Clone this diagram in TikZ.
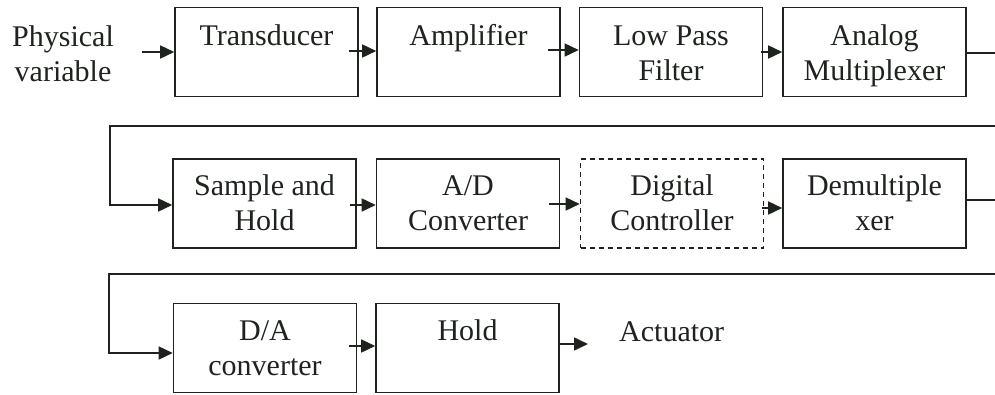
\documentclass[tikz,border=0pt]{standalone}
\usepackage{fontspec}
\setmainfont{Liberation Serif}
\usetikzlibrary{arrows.meta,calc}
\definecolor{ink}{RGB}{30,35,30}
\tikzset{
  blk/.style={draw=ink, line width=1.6pt, minimum width=183pt, minimum height=89pt, inner sep=0pt},
  dblk/.style={blk, dash pattern=on 5pt off 4pt},
  lbl/.style={text=ink, font=\fontsize{30}{35}\selectfont, align=center, inner sep=0pt, anchor=north},
  wire/.style={draw=ink, line width=1.6pt},
  arr/.style={wire, -{Triangle[length=14pt,width=13pt]}}
}
\begin{document}
\begin{tikzpicture}[x=1pt,y=-1pt]
\useasboundingbox[fill=white] (0,0) rectangle (995,394);
% row 1
\node[blk] (T) at (266.5,52) {};
\node[blk] (A) at (468.5,52) {};
\node[blk] (L) at (671,52) {};
\node[blk] (M) at (874.5,52) {};
% row 2
\node[blk] (S) at (264.5,203.5) {};
\node[blk] (AD) at (468,203.5) {};
\node[dblk] (DC) at (672,203.5) {};
\node[blk] (DM) at (874.5,203.5) {};
% row 3
\node[blk] (DA) at (265,348) {};
\node[blk] (H) at (467.5,348) {};
% texts
\node[lbl] (pv) at (63,21.5) {\strut Physical\\\strut variable};
\node[lbl] (tT) at ([yshift=-14.5pt]T.north) {\strut Transducer};
\node[lbl] (tA) at ([yshift=-14.5pt]A.north) {\strut Amplifier};
\node[lbl] (tL) at ([yshift=-14.5pt]L.north) {\strut Low Pass\\\strut Filter};
\node[lbl] (tM) at ([yshift=-14.5pt]M.north) {\strut Analog\\\strut Multiplexer};
\node[lbl] (tS) at ([yshift=-13pt]S.north) {\strut Sample and\\\strut Hold};
\node[lbl] (tAD) at ([yshift=-13pt]AD.north) {\strut A/D\\\strut Converter};
\node[lbl] (tDC) at ([yshift=-13pt]DC.north) {\strut Digital\\\strut Controller};
\node[lbl] (tDM) at ([yshift=-13pt]DM.north) {\strut Demultiple\\\strut xer};
\node[lbl] (tDA) at ([yshift=-13.5pt]DA.north) {\strut D/A\\\strut converter};
\node[lbl] (tH) at ([yshift=-13.5pt]H.north) {\strut Hold};
\node[lbl, anchor=base west] (act) at (619,341) {Actuator};
% free ends
\coordinate (pvs) at (142,52);
\coordinate (r1e) at (995,53);
\coordinate (r2e) at (995,126);
\coordinate (l2) at (110,126);
\coordinate (r2x) at (995,200);
\coordinate (r3e) at (995,274);
\coordinate (l3) at (109,274);
\coordinate (acte) at (588,344);
% row 1 connectors
\draw[arr] (pvs) -- (T.west);
\draw[arr] ([xshift=-10pt,yshift=1pt]T.east) -- ([yshift=1pt]A.west);
\draw[arr] ([xshift=-13pt,yshift=2pt]A.east) -- ([yshift=2pt]L.west);
\draw[arr] ([xshift=-2pt]L.east) -- (M.west);
\draw[wire] (M.east |- r1e) -- (r1e);
% row 2 connectors
\draw[arr] (r2e) -- (l2) |- ([yshift=-1.5pt]S.west);
\draw[arr] ([xshift=-7pt,yshift=-1.5pt]S.east) -- ([yshift=-1.5pt]AD.west);
\draw[arr] ([xshift=-11pt,yshift=-0.5pt]AD.east) -- ([yshift=-0.5pt]DC.west);
\draw[arr] ([xshift=-2pt,yshift=-4.5pt]DC.east) -- ([yshift=-4.5pt]DM.west);
\draw[wire] (DM.east |- r2x) -- (r2x);
% row 3 connectors
\draw[arr] (r3e) -- (l3) |- ([yshift=-5pt]DA.west);
\draw[arr] ([xshift=-8pt,yshift=2pt]DA.east) -- ([yshift=2pt]H.west);
\draw[arr] ([yshift=4pt]H.east) -- (acte);
\end{tikzpicture}
\end{document}
